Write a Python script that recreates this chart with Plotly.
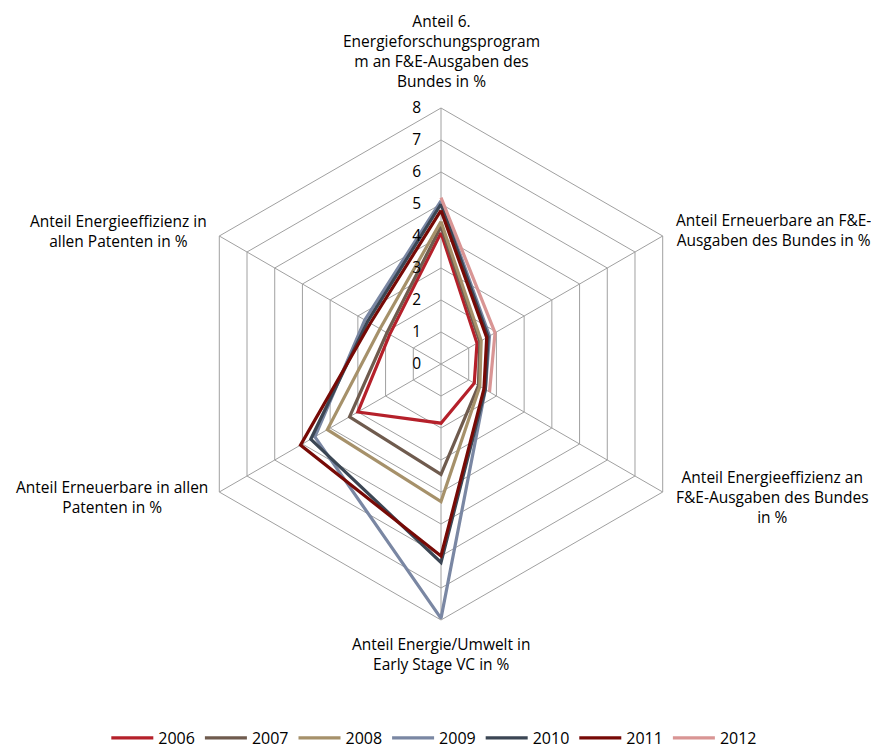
import plotly.graph_objects as go

categories = ["A1", "A2", "A3", "A4", "A5", "A6"]
category_labels = [
    "Anteil 6.<br>Energieforschungsprogram<br>m an F&E-Ausgaben des<br>Bundes in %",
    "Anteil Erneuerbare an F&E-<br>Ausgaben des Bundes in %",
    "Anteil Energieeffizienz an<br>F&E-Ausgaben des Bundes<br>in %",
    "Anteil Energie/Umwelt in<br>Early Stage VC in %",
    "Anteil Erneuerbare in allen<br>Patenten in %",
    "Anteil Energieeffizienz in<br>allen Patenten in %",
]
years = ["2006", "2007", "2008", "2009", "2010", "2011", "2012"]
v2006 = [4.1, 1.3, 1.2, 1.85, 3.0, 1.85]
v2007 = [4.3, 1.4, 1.35, 3.45, 3.3, 1.95]
v2008 = [4.45, 1.45, 1.4, 4.3, 4.1, 2.2]
v2009 = [5.1, 1.75, 1.6, 7.95, 4.55, 2.75]
v2010 = [5.0, 1.7, 1.6, 6.2, 4.7, 2.65]
v2011 = [4.8, 1.65, 1.55, 6.0, 5.07, 2.55]
v2012 = [5.2, 1.95, 1.75, None, None, None]
series = [v2006, v2007, v2008, v2009, v2010, v2011, v2012]
colors = ["#B5202A", "#6F5B4E", "#A6916A", "#7A87A3", "#3B4654", "#770A06", "#D99594"]
radial_ticks = [0, 1, 2, 3, 4, 5, 6, 7, 8]

FONT = "Open Sans"
FS = 15
FL = 15.5
W, H = 879, 749
OFF = 8  # page body margin
cx, cy, R = 441 - OFF, 364 - OFF, 256

fig = go.Figure()
for name, vals, col in zip(years, series, colors):
    fig.add_trace(go.Scatterpolar(
        r=vals + [vals[0]],
        theta=categories + [categories[0]],
        mode="lines",
        name=name,
        line=dict(color=col, width=3.2),
        connectgaps=False,
    ))

grid = "#A0A0A0"
fig.update_layout(
    width=W, height=H,
    margin=dict(l=0, r=0, t=0, b=0),
    paper_bgcolor="white",
    font=dict(family=FONT, size=FS, color="#000000"),
    polar=dict(
        domain=dict(x=[(cx - R) / W, (cx + R) / W], y=[1 - (cy + R) / H, 1 - (cy - R) / H]),
        bgcolor="white",
        gridshape="linear",
        radialaxis=dict(
            range=[0, 8], tickvals=radial_ticks, angle=90, tickangle=90,
            side="counterclockwise",
            showline=False, gridcolor=grid, gridwidth=1,
            ticks="outside", ticklen=14, tickcolor="rgba(0,0,0,0)",
            tickfont=dict(size=FL, family=FONT, color="#000"),
        ),
        angularaxis=dict(
            rotation=90, direction="clockwise",
            showticklabels=False, ticks="",
            linecolor=grid, linewidth=1, gridcolor=grid, gridwidth=1,
        ),
    ),
    legend=dict(
        orientation="h", x=0.485, xanchor="center", y=1 - (738 - OFF) / H, yanchor="middle",
        font=dict(size=16, family=FONT), itemwidth=42,
    ),
    showlegend=True,
)

label_pos = [(441, 51), (773, 230), (772, 497), (441, 654), (112, 497), (118, 231)]
for txt, (x, y) in zip(category_labels, label_pos):
    fig.add_annotation(
        x=(x - OFF) / W, y=1 - (y - OFF) / H, xref="paper", yref="paper",
        text=txt, showarrow=False, xanchor="center", yanchor="middle",
        font=dict(size=FL, family=FONT, color="#000"),
    )

fig.write_html("out.html")
